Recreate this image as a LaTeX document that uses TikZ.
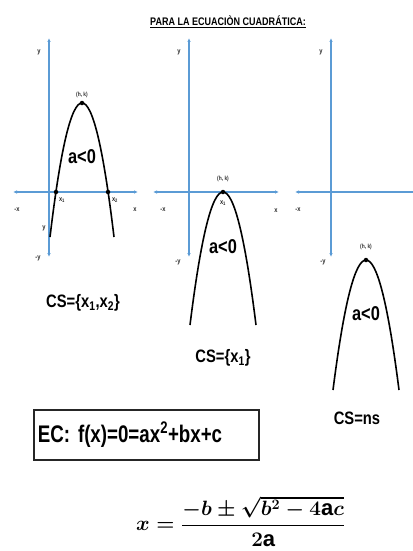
\documentclass[tikz,border=0pt]{standalone}
\usepackage{amsmath}
\usepackage{fontspec}
\setmainfont{Liberation Sans}
\newfontfamily\narrowfont[FakeStretch=0.82]{Liberation Sans}
\newfontfamily\condfont[FakeStretch=0.78]{Liberation Sans}
\usepackage{xcolor}
\usetikzlibrary{arrows.meta, positioning}
\definecolor{axisblue}{RGB}{91,155,213}

\begin{document}
\begin{tikzpicture}[
    x=1pt, y=-1pt,
    axis/.style  = {draw=axisblue, line width=1.1pt,
                    {Latex[length=4pt,width=3.5pt]}-{Latex[length=4pt,width=3.5pt]}},
    laxis/.style = {draw=axisblue, line width=1.1pt, {Latex[length=4pt,width=3.5pt]}-},
    curve/.style = {draw=black, line width=1.6pt},
    vtx/.style   = {circle, fill=black, inner sep=0pt, minimum size=4.5pt},
    lbl/.style   = {inner sep=0pt, text=black!85,
                    font=\narrowfont\bfseries\fontsize{7}{8}\selectfont},
    hk/.style    = {inner sep=0pt, text=black!80,
                    font=\narrowfont\bfseries\fontsize{6}{7}\selectfont},
    sign/.style  = {inner sep=0pt, font=\narrowfont\bfseries\fontsize{20}{22}\selectfont},
    cs/.style    = {inner sep=0pt, font=\narrowfont\bfseries\fontsize{18}{20}\selectfont},
    title/.style = {inner sep=0pt, font=\narrowfont\bfseries\fontsize{11}{13}\selectfont},
    ecbox/.style = {draw=black!85, line width=1.6pt, text width=217pt, align=left,
                    inner xsep=4pt, minimum height=50pt, anchor=west,
                    font=\condfont\bfseries\fontsize{24}{26}\selectfont},
    formula/.style = {inner sep=0pt, anchor=base west,
                      font=\fontsize{22}{26}\selectfont\boldmath}
  ]
  \useasboundingbox (0,0) rectangle (412,551);

  \node[title] (title) at (228,22) {\underline{PARA LA ECUACIÒN CUADRÁTICA:}};

  % first graph: two roots
  \coordinate (ytop1) at (49,38);  \coordinate (ybot1) at (49,257);
  \coordinate (xlft1) at (13,192); \coordinate (xrgt1) at (138,192);
  \draw[axis] (ybot1) -- (ytop1);
  \draw[axis] (xlft1) -- (xrgt1);
  \node[lbl] (ylab1)  at (39,52)   {y};
  \node[lbl] (nxlab1) at (17,210)  {-x};
  \node[lbl] (xlab1)  at (135,210) {x};
  \node[lbl] (nylab1) at (38,258)  {-y};
  \node[lbl] (yaux1)  at (44,228)  {y};
  \draw[curve] (50,237) .. controls (71.3,58.3) and (92.7,58.3) .. (114,237);
  \node[vtx] (vtx1) at (82,103) {};
  \node[vtx] (root1) at (56,192) {};
  \node[vtx] (root2) at (108,192) {};
  \node[hk, above=3pt of vtx1] (hk1) {(h, k)};
  \node[lbl] (rlab1) at (62,200)  {x\textsubscript{1}};
  \node[lbl] (rlab2) at (115,200) {x\textsubscript{2}};
  \node[sign] (sign1) at (82,157) {a<0};
  \node[cs] (cs1) at (83,303) {CS=\{x\textsubscript{1},x\textsubscript{2}\}};

  % second graph: one root
  \coordinate (ytop2) at (189,38);  \coordinate (ybot2) at (189,257);
  \coordinate (xlft2) at (153,192); \coordinate (xrgt2) at (279,192);
  \draw[axis] (ybot2) -- (ytop2);
  \draw[axis] (xlft2) -- (xrgt2);
  \node[lbl] (ylab2)  at (179,52)  {y};
  \node[lbl] (nxlab2) at (163,210) {-x};
  \node[lbl] (xlab2)  at (276,211) {x};
  \node[lbl] (nylab2) at (178,262) {-y};
  \draw[curve] (190,325) .. controls (212,147.7) and (234,147.7) .. (256,325);
  \node[vtx] (vtx2) at (223,192) {};
  \node[hk, above=8pt of vtx2] (hk2) {(h, k)};
  \node[lbl] (rlab3) at (223,203) {x\textsubscript{1}};
  \node[sign] (sign2) at (223,247) {a<0};
  \node[cs] (cs2) at (223,358) {CS=\{x\textsubscript{1}\}};

  % third graph: no roots
  \coordinate (ytop3) at (331,38);  \coordinate (ybot3) at (331,257);
  \coordinate (xlft3) at (295,192); \coordinate (xrgt3) at (414,192);
  \draw[axis] (ybot3) -- (ytop3);
  \draw[laxis] (xlft3) -- (xrgt3);
  \node[lbl] (ylab3)  at (321,52)  {y};
  \node[lbl] (nxlab3) at (298,210) {-x};
  \node[lbl] (nylab3) at (323,262) {-y};
  \draw[curve] (333,390) .. controls (355,216.7) and (377,216.7) .. (399,390);
  \node[vtx] (vtx3) at (366,260) {};
  \node[hk, above=8pt of vtx3] (hk3) {(h, k)};
  \node[sign] (sign3) at (366,314) {a<0};
  \node[cs] (cs3) at (357,418) {CS=ns};

  % equation and formula
  \node[ecbox] (ec) at (33,435) {EC: f(x)=0=ax\textsuperscript{2}+bx+c};
  \node[formula] (quad) at (136,530.5) {$\displaystyle x=\frac{-b\pm\sqrt{b^2-4\mathrm{a}c}}{2\mathrm{a}}$};
\end{tikzpicture}
\end{document}
